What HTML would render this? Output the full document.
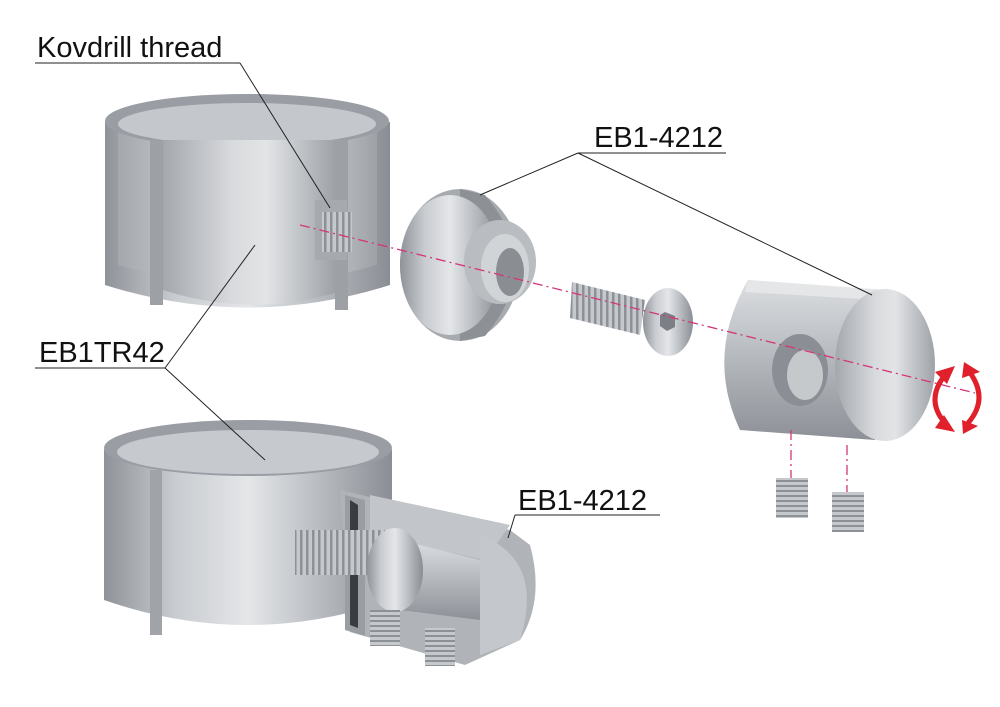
<!DOCTYPE html>
<html><head><meta charset="utf-8"><style>
html,body{margin:0;padding:0;background:#fff;}
svg{display:block}
text{font-family:"Liberation Sans",sans-serif;font-size:29px;fill:#111}
</style></head><body>
<svg width="1000" height="707" viewBox="0 0 1000 707" xmlns="http://www.w3.org/2000/svg">
<defs>
<linearGradient id="m" x1="0" x2="1" y1="0" y2="0">
<stop offset="0" stop-color="#8f9399"/><stop offset=".25" stop-color="#c9ccd0"/><stop offset=".5" stop-color="#e4e6e8"/><stop offset=".75" stop-color="#b8bcc1"/><stop offset="1" stop-color="#8a8e94"/></linearGradient>
<linearGradient id="in" x1="0" x2="1" y1="0" y2="0">
<stop offset="0" stop-color="#a4a8ad"/><stop offset=".4" stop-color="#d8dadd"/><stop offset=".6" stop-color="#e2e4e6"/><stop offset="1" stop-color="#9ea2a7"/></linearGradient>
<linearGradient id="v" x1="0" x2="0" y1="0" y2="1">
<stop offset="0" stop-color="#dcdee1"/><stop offset=".5" stop-color="#b4b8bd"/><stop offset="1" stop-color="#8d9197"/></linearGradient>
<pattern id="thr" width="6" height="10" patternUnits="userSpaceOnUse">
<rect width="6" height="10" fill="#c5c8cc"/><rect width="2.5" height="10" fill="#8d9196"/></pattern>
<pattern id="thr2" width="10" height="5" patternUnits="userSpaceOnUse">
<rect width="10" height="5" fill="#c5c8cc"/><rect width="10" height="2" fill="#8d9196"/></pattern>
</defs>

<path d="M105 122 L105 285 Q247 330 390 285 L390 122 Z" fill="url(#m)"/>
<path d="M118 128 Q247 160 377 128 L377 265 Q247 302 118 265 Z" fill="url(#in)"/>
<ellipse cx="247" cy="121" rx="142" ry="27" fill="#9a9ea4"/>
<ellipse cx="247" cy="124" rx="129" ry="21" fill="#c4c7cb"/>
<rect x="150" y="140" width="13" height="165" fill="#9da1a6"/>
<rect x="335" y="140" width="13" height="170" fill="#9da1a6"/>
<path d="M163 140 L163 290 Q250 318 335 293 L335 140 Z" fill="url(#in)"/>
<rect x="315" y="200" width="32" height="60" fill="#a6aaaf"/>
<rect x="322" y="212" width="30" height="40" fill="url(#thr)"/>

<path d="M104 450 L104 600 Q247 650 392 600 L392 450 Z" fill="url(#m)"/>
<ellipse cx="248" cy="448" rx="144" ry="28" fill="#9a9ea4"/>
<ellipse cx="248" cy="452" rx="131" ry="22" fill="#c6c9cd"/>
<rect x="150" y="470" width="12" height="165" fill="#a0a4a9"/>

<path d="M340 490 L350 632 L465 665 L520 640 Q545 600 530 545 L510 530 Z" fill="#b0b4b9"/>
<path d="M345 495 L345 630 L365 636 L365 500 Z" fill="#9a9ea3"/>
<path d="M350 500 L350 625 L358 628 L358 505 Z" fill="#3a3c40"/>
<path d="M370 495 L510 525 L485 560 L370 535 Z" fill="#c2c5c9"/>
<path d="M400 540 L480 560 L480 620 L400 610 Z" fill="url(#v)"/>
<path d="M480 535 Q545 560 520 640 L480 655 Z" fill="#c4c7cb"/>
<rect x="295" y="530" width="90" height="45" fill="url(#thr)"/>
<ellipse cx="395" cy="570" rx="28" ry="42" fill="url(#m)"/>
<path d="M370 610 h30 v36 h-30 z" fill="url(#thr2)"/>
<path d="M425 628 h30 v38 h-30 z" fill="url(#thr2)"/>

<ellipse cx="460" cy="265" rx="60" ry="76" fill="#a7abb0"/>
<path d="M460 189 L485 195 Q545 265 485 336 L460 341 Z" fill="#8d9196"/>
<ellipse cx="450" cy="265" rx="50" ry="70" fill="url(#m)"/>
<ellipse cx="500" cy="262" rx="36" ry="42" fill="#b9bcc0"/>
<ellipse cx="505" cy="268" rx="24" ry="34" fill="#d1d4d7"/>
<ellipse cx="510" cy="272" rx="14" ry="24" fill="#8a8e93"/>

<path d="M572 282 L645 300 L640 335 L570 318 Z" fill="url(#thr)"/>
<ellipse cx="668" cy="322" rx="25" ry="34" fill="url(#m)"/>
<polygon points="665,312 675,316 675,327 667,331 660,326 660,315" fill="#7c8086"/>

<path d="M748 280 L885 290 Q915 360 875 440 L740 430 Q705 355 748 280 Z" fill="url(#v)"/>
<path d="M748 280 L885 290 L880 300 L745 292 Z" fill="#e4e6e8"/>
<ellipse cx="885" cy="365" rx="50" ry="76" fill="url(#in)"/>
<ellipse cx="800" cy="370" rx="28" ry="36" fill="#8b8f95"/>
<ellipse cx="805" cy="375" rx="18" ry="25" fill="#c6c9cc"/>

<rect x="776" y="478" width="32" height="40" fill="url(#thr2)"/>
<rect x="832" y="492" width="32" height="40" fill="url(#thr2)"/>

<g stroke="#d4357a" stroke-width="1.3" stroke-dasharray="10,4,2,4" fill="none">
<line x1="300" y1="225" x2="975" y2="393"/>
<line x1="791" y1="430" x2="791" y2="478"/>
<line x1="847" y1="445" x2="847" y2="492"/>
</g>
<g fill="none" stroke="#e0202a" stroke-width="5">
<path d="M945 375 Q925 400 945 423"/>
<path d="M968 370 Q990 398 968 423"/>
</g>
<g fill="#e0202a">
<polygon points="935,372 955,366 947,384"/>
<polygon points="935,428 955,432 944,415"/>
<polygon points="964,362 980,372 962,378"/>
<polygon points="962,420 978,426 963,434"/>
</g>
<g stroke="#222" stroke-width="1" fill="none">
<line x1="35" y1="63" x2="240" y2="63"/>
<line x1="240" y1="63" x2="330" y2="208"/>
<line x1="578" y1="153" x2="726" y2="153"/>
<line x1="578" y1="153" x2="480" y2="195"/>
<line x1="578" y1="153" x2="872" y2="295"/>
<line x1="35" y1="368" x2="165" y2="368"/>
<line x1="165" y1="368" x2="255" y2="245"/>
<line x1="165" y1="368" x2="265" y2="460"/>
<line x1="515" y1="515" x2="660" y2="515"/>
<line x1="515" y1="515" x2="508" y2="538"/>
</g>
<text x="37" y="57">Kovdrill thread</text>
<text x="594" y="147">EB1-4212</text>
<text x="39" y="362">EB1TR42</text>
<text x="518" y="510">EB1-4212</text>
</svg>
</body></html>
